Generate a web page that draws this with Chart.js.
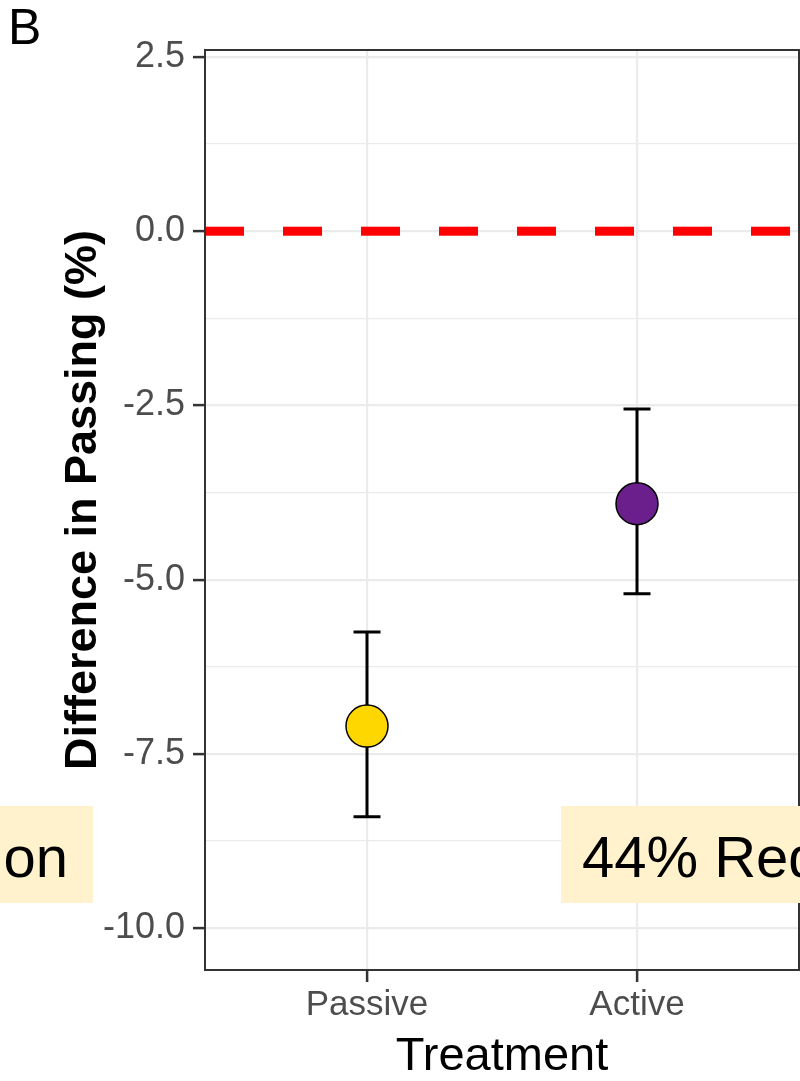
<!DOCTYPE html>
<html>
<head>
<meta charset="utf-8">
<script src="https://cdn.jsdelivr.net/npm/chart.js@4"></script>
<style>
  html, body { margin:0; padding:0; background:#fff; }
  #wrap { position:relative; width:800px; height:1081px; overflow:hidden; }
  canvas { position:absolute; left:0; top:0; }
  .lbl { position:absolute; font-family:"Liberation Sans", Arial, sans-serif; color:#000; white-space:nowrap; }
  .box { position:absolute; background:#FFF2CC; overflow:hidden; }
</style>
</head>
<body>
<div id="wrap">
  <canvas id="c" width="800" height="1081"></canvas>
  <div class="lbl" style="left:8px;top:-3px;font-size:50px;line-height:60px;">B</div>
  <div class="box" style="left:0;top:806px;width:93px;height:97px;">
    <div class="lbl" style="right:25px;top:16px;font-size:58px;line-height:70px;">on</div>
  </div>
  <div class="box" style="left:561px;top:806px;width:239px;height:97px;">
    <div class="lbl" style="left:21px;top:16px;font-size:58px;line-height:70px;">44% Red</div>
  </div>
</div>
<script>
// ---- data ----
const categories = ['Passive', 'Active'];
const meanDiff   = [-7.10, -3.91];
const lowerCI    = [-8.40, -5.20];
const upperCI    = [-5.75, -2.55];
const yMajorTicks = [2.5, 0.0, -2.5, -5.0, -7.5, -10.0];
const yMinorTicks = [1.25, -1.25, -3.75, -6.25, -8.75];
const refLineY = 0;
const yTitle = 'Difference in Passing (%)';
const xTitle = 'Treatment';
const pointColors = ['#FFD700', '#6A1F8C'];

const xPos = categories.map((c, i) => i + 1);
const allYTicks = yMajorTicks.concat(yMinorTicks).sort((a, b) => a - b);

const errorBarPlugin = {
  id: 'errorBars',
  beforeDatasetsDraw(chart) {
    const {ctx, scales: {x, y}} = chart;
    ctx.save();
    ctx.strokeStyle = '#000';
    ctx.lineWidth = 3;
    ctx.lineCap = 'butt';
    xPos.forEach((xv, i) => {
      const px = x.getPixelForValue(xv);
      const pl = y.getPixelForValue(lowerCI[i]);
      const pu = y.getPixelForValue(upperCI[i]);
      const half = Math.abs(x.getPixelForValue(xv + 0.05) - px);
      ctx.beginPath();
      ctx.moveTo(px, pl); ctx.lineTo(px, pu);
      ctx.moveTo(px - half, pl); ctx.lineTo(px + half, pl);
      ctx.moveTo(px - half, pu); ctx.lineTo(px + half, pu);
      ctx.stroke();
    });
    ctx.restore();
  }
};

const panelBorderPlugin = {
  id: 'panelBorder',
  afterDraw(chart) {
    const {ctx, chartArea: a} = chart;
    ctx.save();
    ctx.strokeStyle = '#333333';
    ctx.lineWidth = 2;
    ctx.strokeRect(a.left, a.top, a.right - a.left, a.bottom - a.top);
    // y-axis title
    ctx.translate(84, (a.top + a.bottom) / 2 - 10);
    ctx.rotate(-Math.PI / 2);
    ctx.fillStyle = '#000';
    ctx.font = 'bold 45px "Liberation Sans", Arial, sans-serif';
    ctx.textAlign = 'center';
    ctx.textBaseline = 'middle';
    ctx.fillText(yTitle, 0, 0);
    ctx.restore();
  }
};

new Chart(document.getElementById('c'), {
  type: 'scatter',
  data: {
    datasets: [
      {
        label: 'ref',
        data: [{x: 0.4, y: refLineY}, {x: 2.6, y: refLineY}],
        showLine: true,
        borderColor: '#FF0000',
        borderWidth: 9,
        borderDash: [39, 39],
        pointRadius: 0,
        order: 2
      },
      {
        label: 'mean',
        data: xPos.map((xv, i) => ({x: xv, y: meanDiff[i]})),
        pointRadius: 21,
        pointBackgroundColor: pointColors,
        pointBorderColor: '#000',
        pointBorderWidth: 1.5,
        order: 1
      }
    ]
  },
  options: {
    responsive: false,
    animation: false,
    devicePixelRatio: 1,
    layout: { autoPadding: false, padding: { top: 50, right: 1, left: 0, bottom: 0 } },
    plugins: { legend: { display: false }, tooltip: { enabled: false } },
    scales: {
      x: {
        type: 'linear',
        min: 0.4, max: 2.6,
        afterBuildTicks(s) { s.ticks = xPos.map(v => ({value: v})); },
        afterFit(s) { s.height = 111; s.paddingLeft = 0; s.paddingRight = 0; },
        ticks: {
          callback: (v) => categories[v - 1] ?? '',
          font: { family: '"Liberation Sans", Arial, sans-serif', size: 35 },
          color: '#4D4D4D',
          padding: 2,
          maxRotation: 0, autoSkip: false
        },
        grid: {
          color: '#EBEBEB', lineWidth: 2.2,
          tickColor: '#333333', tickLength: 12, tickWidth: 2.5
        },
        border: { display: false },
        title: {
          display: true, text: xTitle, color: '#000',
          font: { family: '"Liberation Sans", Arial, sans-serif', size: 47, lineHeight: 1 },
          padding: { top: 0, bottom: 0 }
        }
      },
      y: {
        min: -10.6, max: 2.6,
        afterBuildTicks(s) { s.ticks = allYTicks.map(v => ({value: v})); },
        afterFit(s) { s.width = 205; s.paddingTop = 0; s.paddingBottom = 0; },
        ticks: {
          callback: (v) => yMajorTicks.includes(v) ? v.toFixed(1) : '',
          font: { family: '"Liberation Sans", Arial, sans-serif', size: 36 },
          color: '#4D4D4D',
          padding: 8,
          autoSkip: false
        },
        grid: {
          color: '#EBEBEB',
          lineWidth: (c) => yMajorTicks.includes(c.tick && c.tick.value) ? 2.2 : 1.2,
          tickColor: (c) => yMajorTicks.includes(c.tick && c.tick.value) ? '#333333' : 'rgba(0,0,0,0)',
          tickLength: 12, tickWidth: 2.5
        },
        border: { display: false },
        title: { display: false }
      }
    }
  },
  plugins: [errorBarPlugin, panelBorderPlugin]
});
</script>
</body>
</html>
